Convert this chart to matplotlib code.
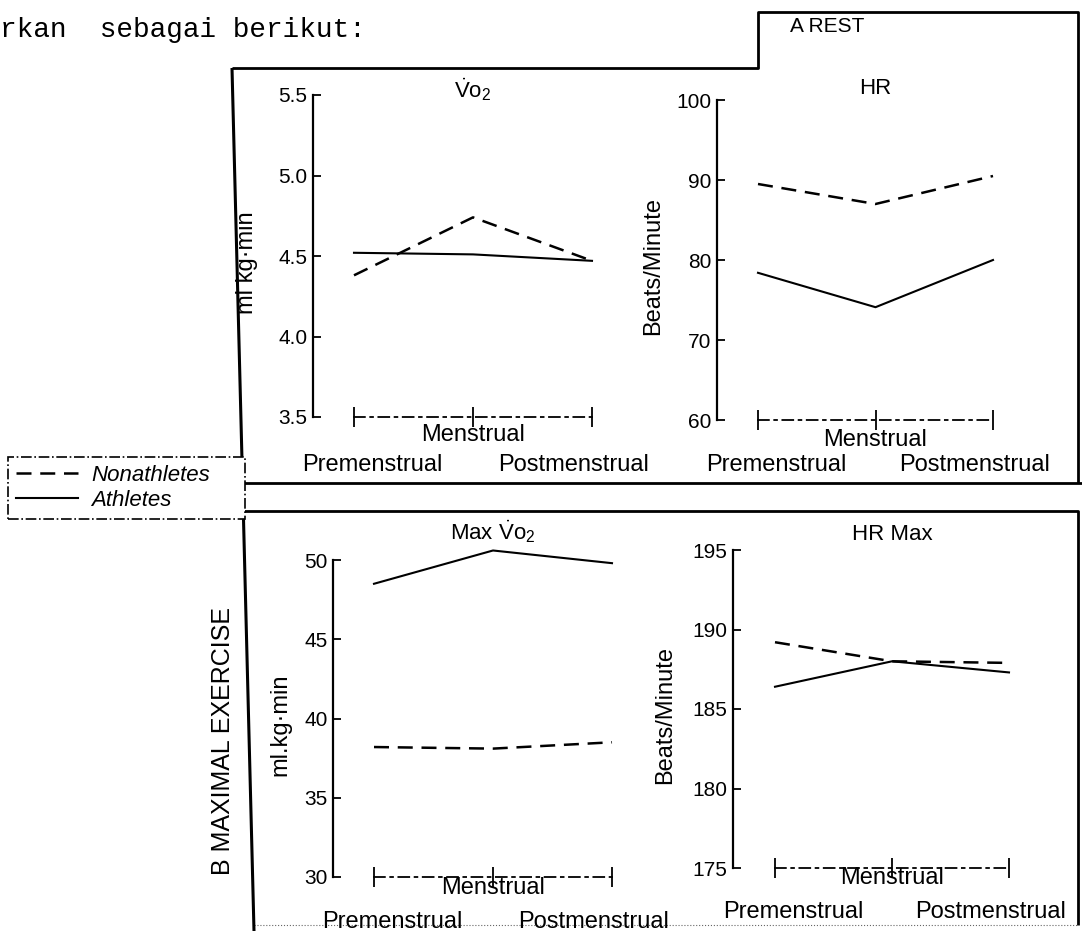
import matplotlib.pyplot as plt
from matplotlib.lines import Line2D
from matplotlib.transforms import ScaledTranslation

plt.rcParams['font.family'] = ['Liberation Sans', 'DejaVu Sans']
plt.rcParams['mathtext.fontset'] = 'custom'
plt.rcParams['mathtext.rm'] = 'Liberation Sans'
plt.rcParams['mathtext.it'] = 'Liberation Sans:italic'

phases = ['Premenstrual', 'Menstrual', 'Postmenstrual']
x = [0, 1, 2]

# A. rest
vo2_rest_non = [4.38, 4.74, 4.47]
vo2_rest_ath = [4.52, 4.51, 4.47]
hr_rest_non = [89.5, 87.0, 90.5]
hr_rest_ath = [78.4, 74.1, 80.0]

# B. maximal exercise
vo2_max_non = [38.2, 38.1, 38.5]
vo2_max_ath = [48.5, 50.6, 49.8]
hr_max_non = [189.2, 188.0, 187.9]
hr_max_ath = [186.4, 188.0, 187.3]

vo2_rest_ticks = [3.5, 4.0, 4.5, 5.0, 5.5]
hr_rest_ticks = [60, 70, 80, 90, 100]
vo2_max_ticks = [30, 35, 40, 45, 50]
hr_max_ticks = [175, 180, 185, 190, 195]

W, H = 1082, 931
fig = plt.figure(figsize=(W / 100, H / 100), dpi=100)


def shift(dx, dy):
    # offset in pixels (dpi = 100)
    return ScaledTranslation(dx / 100, dy / 100, fig.dpi_scale_trans)


def panel(axis_px, x0, dx, top, bottom, ticks, non, ath, title, title_dy,
          ylabel, ylab_dx, men_dy, pre_dy):
    xl = (axis_px - x0) / dx
    xr = 2.25
    right = x0 + xr * dx
    ax = fig.add_axes([axis_px / W, 1 - bottom / H, (right - axis_px) / W, (bottom - top) / H])
    ax.set_xlim(xl, xr)
    ax.set_ylim(ticks[0], ticks[-1])
    ax.patch.set_alpha(0)

    l_non, = ax.plot(x, non, color='black', lw=1.8, dashes=(6, 3.5), label='Nonathletes', clip_on=False)
    l_ath, = ax.plot(x, ath, color='black', lw=1.5, label='Athletes', clip_on=False)

    for s in ['top', 'right']:
        ax.spines[s].set_visible(False)
    ax.spines['left'].set_linewidth(1.6)
    ax.spines['bottom'].set_bounds(0, 2)
    ax.spines['bottom'].set_linewidth(1.3)
    ax.spines['bottom'].set_linestyle((0, (6, 3, 1.5, 3)))

    ax.set_yticks(ticks)
    ax.set_yticklabels([f'{t:g}' if isinstance(t, int) else f'{t:.1f}' for t in ticks])
    ax.tick_params(axis='y', direction='in', length=6, width=1.3, labelsize=15, pad=4)
    ax.set_xticks(x)
    ax.set_xticklabels([])
    ax.tick_params(axis='x', direction='inout', length=14, width=1.3)

    xt = ax.get_xaxis_transform()
    nudge = [18, 0, -18]
    for i, name in enumerate(phases):
        dy = men_dy if i == 1 else pre_dy
        ax.text(i, 0, name, transform=xt + shift(nudge[i], -dy), ha='center', va='center', fontsize=17)

    ax.text(1, 1, title, transform=xt + shift(0, title_dy), ha='center', va='center', fontsize=16)
    ax.text(0, 0.48, ylabel, transform=ax.transAxes + shift(-ylab_dx, 0), rotation=90,
            ha='center', va='center', fontsize=17)
    return ax, l_non, l_ath


vo2 = r'$\dot{\mathrm{V}}\mathrm{o}_2$'
ax1, h_non, h_ath = panel(313, 354, 119, 95, 417, vo2_rest_ticks, vo2_rest_non, vo2_rest_ath,
                          vo2, 5, 'ml kg·min', 66, 18, 48)
panel(717, 758, 117.5, 100, 420, hr_rest_ticks, hr_rest_non, hr_rest_ath,
      'HR', 12, 'Beats/Minute', 64, 20, 45)
panel(333, 374, 119, 560, 877, vo2_max_ticks, vo2_max_non, vo2_max_ath,
      'Max ' + vo2, 28, 'ml.kg·min', 53, 11, 45)
panel(733, 775, 117, 550, 868, hr_max_ticks, hr_max_non, hr_max_ath,
      'HR Max', 15, 'Beats/Minute', 68, 10, 44)


def frame(pts, **kw):
    xs = [p[0] / W for p in pts]
    ys = [1 - p[1] / H for p in pts]
    fig.add_artist(Line2D(xs, ys, transform=fig.transFigure, color='black',
                          solid_capstyle='butt', **kw))


frame([(232, 68), (254, 931)], lw=2.2)
frame([(232, 68), (758, 68), (758, 12), (1078, 12), (1078, 483)], lw=2.0)
frame([(243, 483), (1082, 483)], lw=2.0)
frame([(244, 511), (1078, 511), (1078, 925)], lw=2.0)
frame([(254, 925), (1078, 925)], lw=0.8, ls=':', alpha=0.6)

leg = fig.legend([h_non, h_ath], ['Nonathletes', 'Athletes'], loc='upper left',
                 bbox_to_anchor=(8 / W, 1 - 528 / H, 237 / W, 71 / H), mode='expand',
                 bbox_transform=fig.transFigure, borderaxespad=0, fancybox=False,
                 edgecolor='black', framealpha=1, prop={'style': 'italic', 'size': 16},
                 handlelength=2.8, handletextpad=0.6, labelspacing=0.2, borderpad=0.35)
leg.get_frame().set_linestyle('dashdot')
leg.get_frame().set_linewidth(1.2)

fig.text(0, 1 - 30 / H, 'rkan  sebagai berikut:', family='Liberation Mono', fontsize=20, va='center')
fig.text(790 / W, 1 - 26 / H, 'A REST', fontsize=15, va='center')
fig.text(223 / W, 1 - 741 / H, 'B MAXIMAL EXERCISE', rotation=90, ha='center', va='center', fontsize=18)

fig.savefig('out.png', dpi=100)
